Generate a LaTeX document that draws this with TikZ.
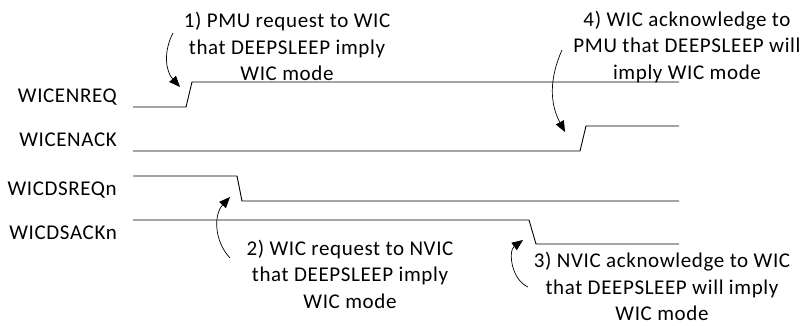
\documentclass[tikz,border=0pt]{standalone}
\usepackage{fontspec}
\setmainfont[LetterSpace=3]{Carlito}
\usetikzlibrary{arrows.meta,positioning}

\begin{document}
\begin{tikzpicture}[x=1pt, y=-1pt,
    sig/.style={line width=0.9pt},
    lbl/.style={anchor=east, inner sep=0pt, font=\fontsize{21}{26}\selectfont},
    note/.style={align=center, inner sep=0pt, font=\fontsize{21}{26.5}\selectfont},
    callout/.style={-{Triangle[length=11pt,width=9pt]}, line width=0.7pt}]
    \useasboundingbox (0,0) rectangle (803,325);

    % signal names
    \node [lbl] (enreq) at (117,97) {WICENREQ};
    \node [lbl] (enack) at (117,140) {WICENACK};
    \node [lbl] (dsreq) at (117,190) {WICDSREQn};
    \node [lbl] (dsack) at (117,233) {WICDSACKn};

    % waveforms
    \draw [sig] (133,107) -- (186,107) -- (192,82) -- (679,82);
    \draw [sig] (133,151) -- (580,151) -- (586,126) -- (679,126);
    \draw [sig] (133,176) -- (237,176) -- (242,201) -- (679,201);
    \draw [sig] (133,220) -- (529,220) -- (536,244) -- (679,244);

    % notes
    \node [note] (pmureq) at (287,46.5) {1) PMU request to WIC\\that DEEPSLEEP imply\\WIC mode};
    \node [note] (wicreq) at (350,274) {2) WIC request to NVIC\\that DEEPSLEEP imply\\WIC mode};
    \node [note] (nvicack) at (662,286.5) {3) NVIC acknowledge to WIC\\that DEEPSLEEP will imply\\WIC mode};
    \node [note] (wicack) at (687,47) {4) WIC acknowledge to\\PMU that DEEPSLEEP will\\imply WIC mode};

    % callout arrows
    \coordinate (a1s) at (173,33);
    \coordinate (a1e) at (180,87);
    \coordinate (a2s) at (230,258);
    \coordinate (a2e) at (230,197);
    \coordinate (a3s) at (528,287);
    \coordinate (a3e) at (523,240);
    \coordinate (a4s) at (562,50);
    \coordinate (a4e) at (565,132);
    \draw [callout] (a1s) to[bend right=35] (a1e);
    \draw [callout] (a2s) to[bend left=43] (a2e);
    \draw [callout] (a3s) to[bend left=60] (a3e);
    \draw [callout] (a4s) to[bend right=26] (a4e);
\end{tikzpicture}
\end{document}
